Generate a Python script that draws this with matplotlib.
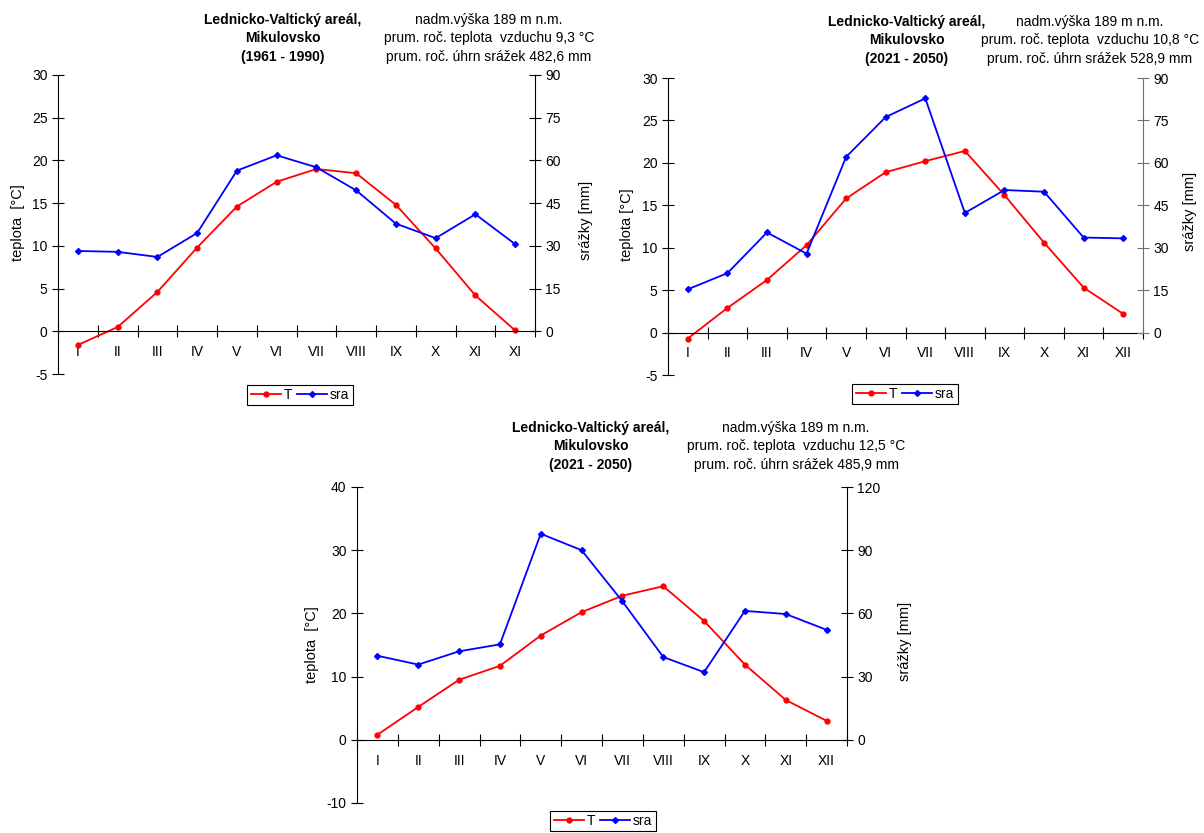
import matplotlib
matplotlib.use('Agg')
import numpy as np
import matplotlib.pyplot as plt

plt.rcParams['font.family'] = ['Liberation Sans', 'DejaVu Sans']
plt.rcParams['axes.unicode_minus'] = False

W, H = 1204, 833

months = ['I', 'II', 'III', 'IV', 'V', 'VI', 'VII', 'VIII', 'IX', 'X', 'XI', 'XII']
months_1 = ['I', 'II', 'III', 'IV', 'V', 'VI', 'VII', 'VIII', 'IX', 'X', 'XI', 'XI']

# 1961 - 1990
t_1 = [-1.6, 0.5, 4.6, 9.8, 14.6, 17.5, 19.0, 18.5, 14.8, 9.7, 4.2, 0.1]
sra_1 = [28.2, 27.9, 26.1, 34.5, 56.4, 61.8, 57.6, 49.5, 37.8, 32.7, 41.1, 30.6]

# 2021 - 2050 (upper right)
t_2 = [-0.7, 2.9, 6.2, 10.3, 15.8, 18.9, 20.2, 21.4, 16.2, 10.6, 5.3, 2.2]
sra_2 = [15.3, 21.0, 35.4, 27.9, 62.1, 76.2, 82.8, 42.3, 50.4, 49.8, 33.6, 33.3]

# 2021 - 2050 (bottom)
t_3 = [0.8, 5.2, 9.5, 11.7, 16.5, 20.2, 22.8, 24.3, 18.8, 11.9, 6.3, 3.0]
sra_3 = [39.9, 35.7, 42.0, 45.3, 97.8, 90.0, 65.7, 39.3, 32.1, 61.2, 59.7, 52.2]

title_1 = 'Lednicko-Valtický areál,\nMikulovsko\n(1961 - 1990)'
title_2 = 'Lednicko-Valtický areál,\nMikulovsko\n(2021 - 2050)'
info_1 = 'nadm.výška 189 m n.m.\nprum. roč. teplota  vzduchu 9,3 °C\nprum. roč. úhrn srážek 482,6 mm'
info_2 = 'nadm.výška 189 m n.m.\nprum. roč. teplota  vzduchu 10,8 °C\nprum. roč. úhrn srážek 528,9 mm'
info_3 = 'nadm.výška 189 m n.m.\nprum. roč. teplota  vzduchu 12,5 °C\nprum. roč. úhrn srážek 485,9 mm'


def fx(px):
    return px / W


def fy(py):
    return 1 - py / H


def chart(fig, box, t, sra, labels, tmin, tmax, tstep, title, title_xy,
          info, info_xy, ylab_xy, ylab2_xy, leg_xy, ylab='teplota  [°C]',
          right_color='black'):
    x0, ytop, x1, ybot = box
    ax = fig.add_axes([fx(x0), fy(ybot), fx(x1 - x0), (ybot - ytop) / H])
    ax2 = ax.twinx()
    x = np.arange(len(t))

    ax.set_xlim(-0.5, len(t) - 0.5)
    ax.set_ylim(tmin, tmax)
    ax2.set_ylim(tmin * 3, tmax * 3)

    l1, = ax.plot(x, t, color='#ff0000', lw=1.3, marker='o', ms=3.5, label='T')
    l2, = ax2.plot(x, sra, color='#0000ff', lw=1.3, marker='D', ms=3, label='sra')

    for a in (ax, ax2):
        a.spines['top'].set_visible(False)
        a.patch.set_visible(False)
    ax.spines['right'].set_visible(False)
    ax2.spines['left'].set_visible(False)
    ax2.spines['bottom'].set_visible(False)
    ax2.spines['right'].set_bounds(0, tmax * 3)
    ax2.spines['right'].set_color(right_color)

    ax.spines['bottom'].set_position(('data', 0))
    ax.set_xticks(np.arange(-0.5, len(t), 1.0))
    ax.set_xticklabels([])
    ax.tick_params(axis='x', which='major', direction='inout', length=8, width=0.8)
    ax.set_xticks(x, minor=True)
    ax.set_xticklabels(labels, minor=True)
    ax.tick_params(axis='x', which='minor', length=0, pad=10, labelsize=10)

    ax.set_yticks(np.arange(tmin, tmax + 0.1, tstep))
    ax.tick_params(axis='y', direction='inout', length=8, width=0.8, labelsize=10)
    ax2.set_yticks(np.arange(0, tmax * 3 + 0.1, tstep * 3))
    ax2.tick_params(axis='y', direction='inout', length=8, width=0.8,
                    labelsize=10, color=right_color)

    fig.text(fx(title_xy[0]), fy(title_xy[1]), title, ha='center', va='top',
             fontsize=10, fontweight='bold', linespacing=1.4)
    fig.text(fx(info_xy[0]), fy(info_xy[1]), info, ha='center', va='top',
             fontsize=10, linespacing=1.4)
    fig.text(fx(ylab_xy[0]), fy(ylab_xy[1]), ylab, rotation=90,
             ha='center', va='center', fontsize=10.5)
    fig.text(fx(ylab2_xy[0]), fy(ylab2_xy[1]), 'srážky [mm]', rotation=90,
             ha='center', va='center', fontsize=10.5)

    leg = fig.legend([l1, l2], ['T', 'sra'], loc='center', ncol=2,
                     bbox_to_anchor=(fx(leg_xy[0]), fy(leg_xy[1])),
                     fontsize=10, handlelength=2.2, handletextpad=0.2,
                     columnspacing=0.3, borderpad=0.25, fancybox=False,
                     framealpha=1, borderaxespad=0)
    leg.get_frame().set_edgecolor('black')
    leg.get_frame().set_linewidth(0.8)
    return ax, ax2


fig = plt.figure(figsize=(W / 100, H / 100), dpi=100)

chart(fig, (58, 75, 535, 374), t_1, sra_1, months_1, -5, 30, 5,
      title_1, (283, 13), info_1, (489, 13), (18, 223), (586, 220), (300, 395),
      ylab='teplota  [°C]')
chart(fig, (668, 78, 1143, 375), t_2, sra_2, months, -5, 30, 5,
      title_2, (907, 15), info_2, (1090, 15), (627, 225), (1190, 211), (905, 394),
      ylab='teplota [°C]', right_color='#707070')
chart(fig, (357, 487, 847, 803), t_3, sra_3, months, -10, 40, 10,
      title_2, (591, 421), info_3, (796, 421), (312, 645), (905, 641), (603, 821))

fig.savefig('out.png', dpi=100)
